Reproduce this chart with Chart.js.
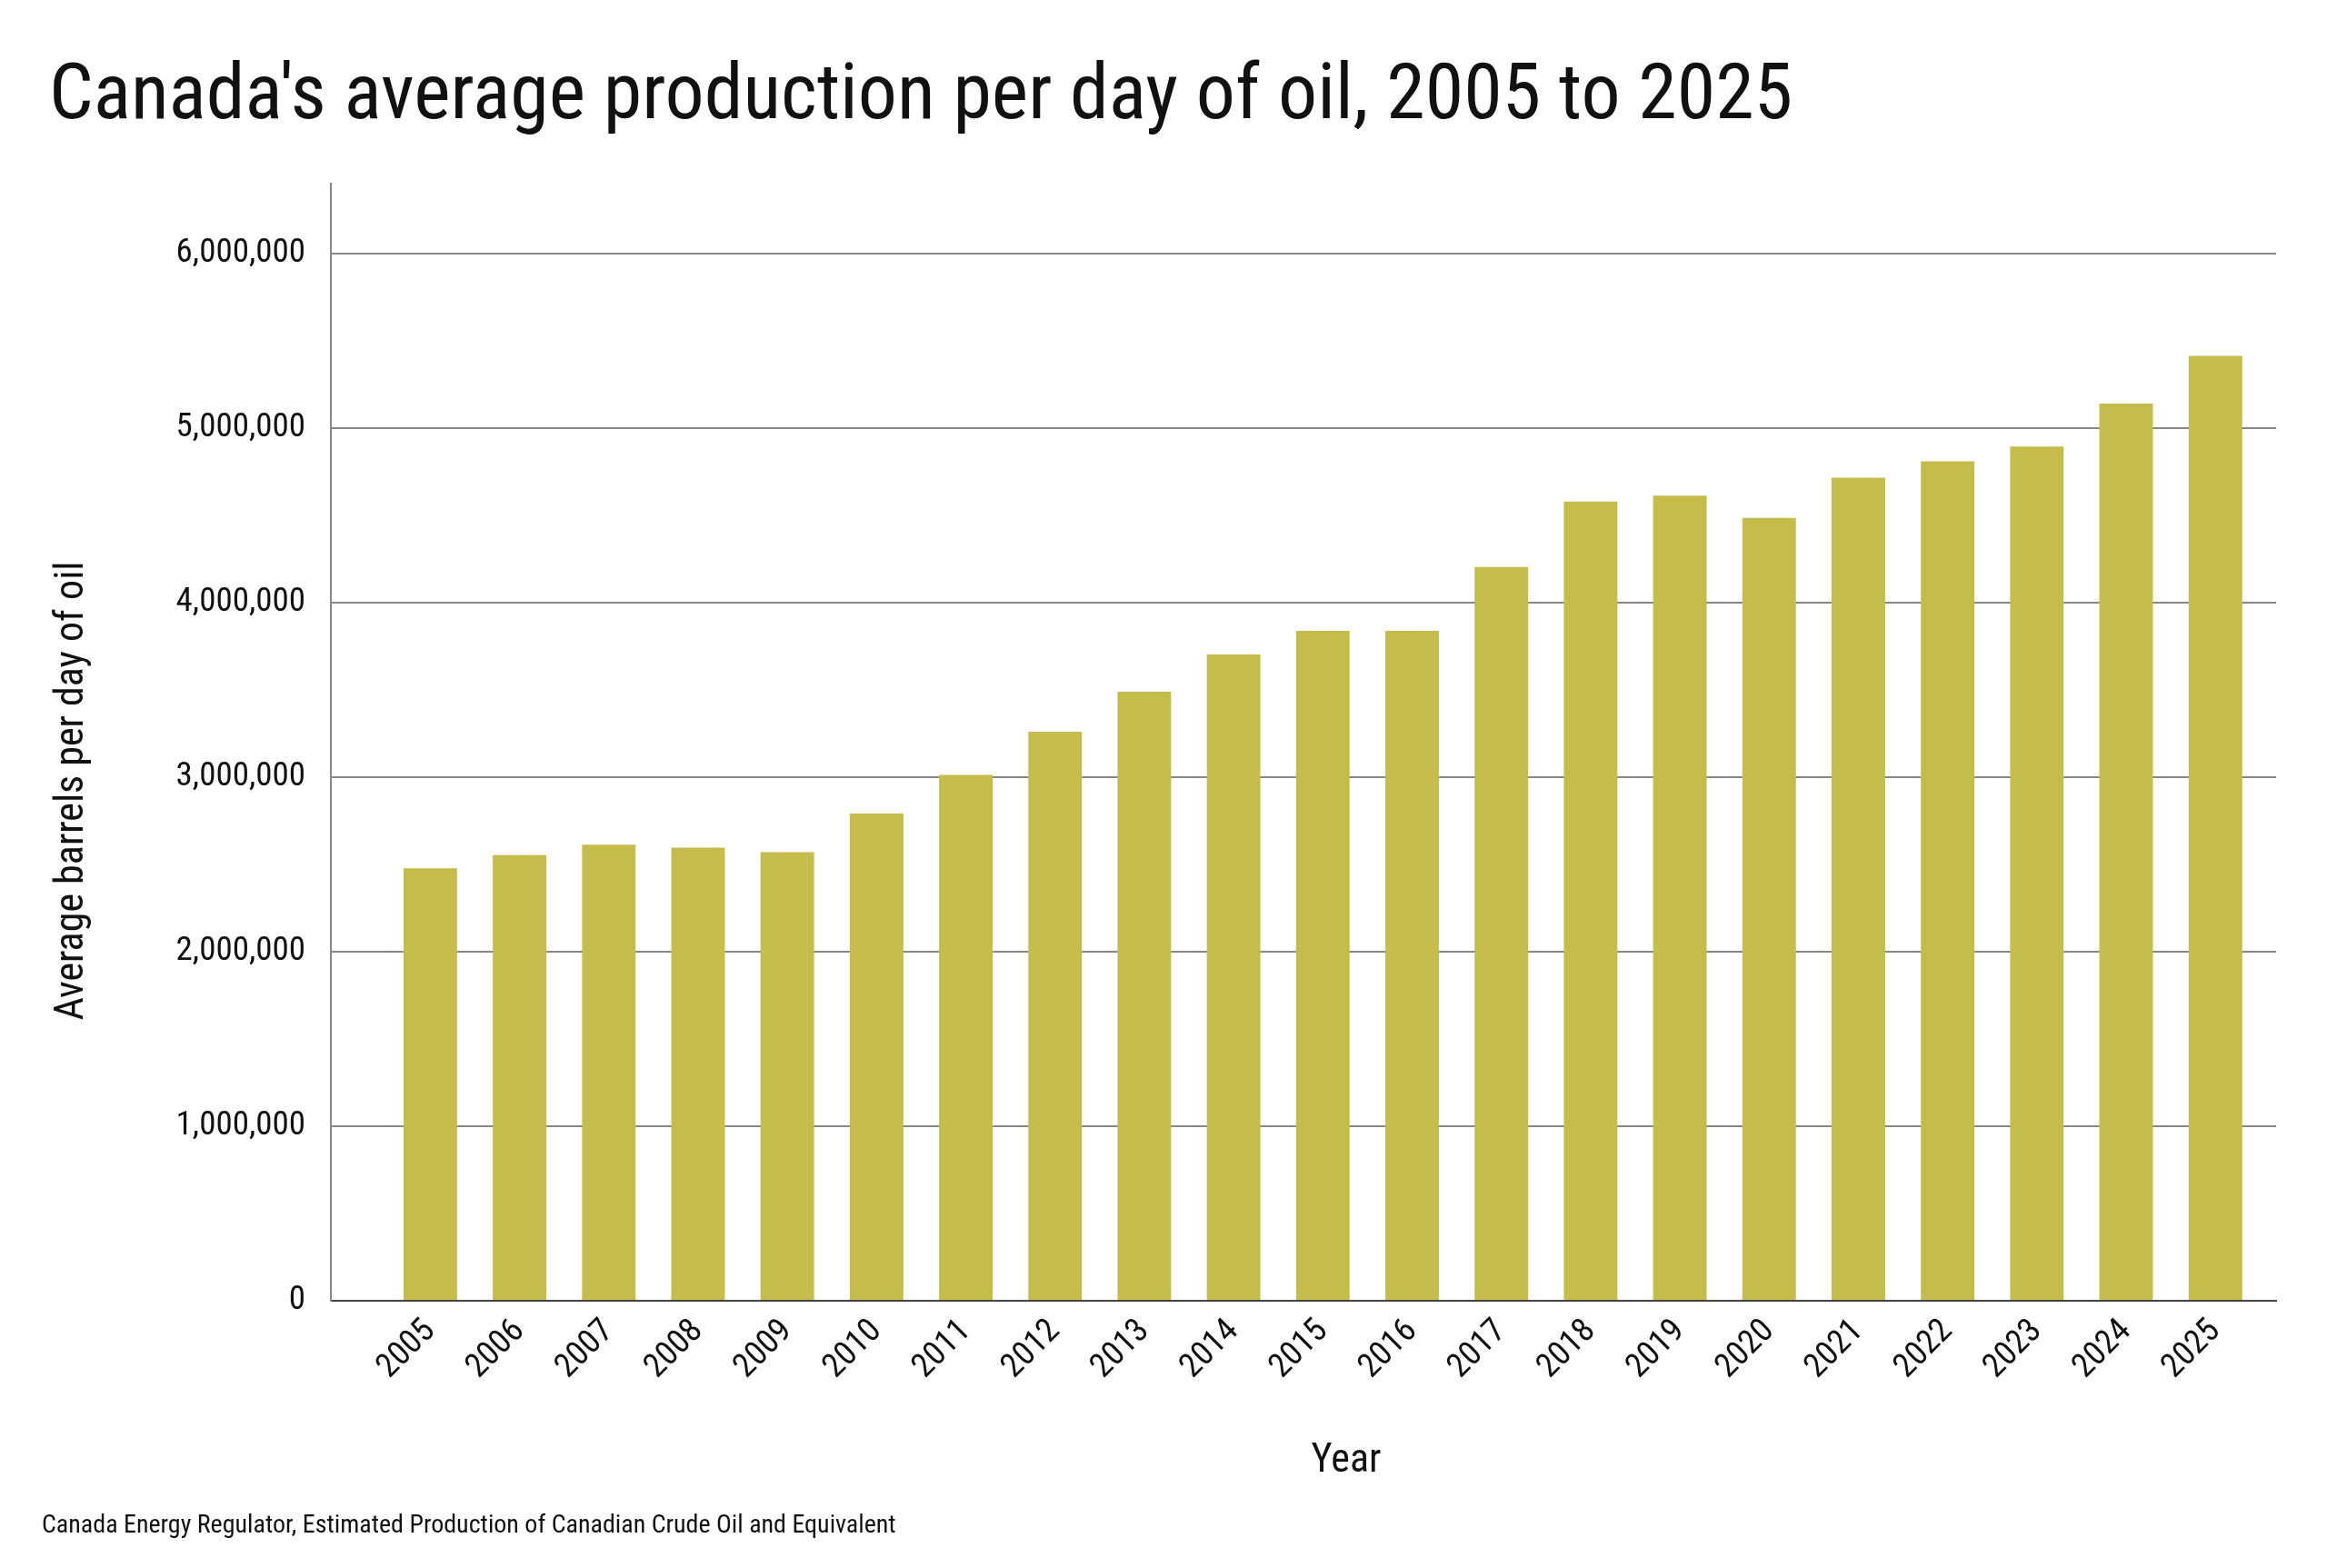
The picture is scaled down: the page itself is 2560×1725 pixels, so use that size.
<!DOCTYPE html>
<html><head><meta charset="utf-8">
<script src="https://cdn.jsdelivr.net/npm/chart.js@4"></script>
<style>body{margin:0;background:#fff}canvas{display:block}</style>
</head><body>
<canvas id="c" width="2560" height="1725"></canvas>
<script>
const years = [2005,2006,2007,2008,2009,2010,2011,2012,2013,2014,2015,2016,2017,2018,2019,2020,2021,2022,2023,2024,2025];
const barrels = [2477000,2553000,2613000,2596000,2570000,2791000,3013000,3260000,3489000,3702000,3838000,3838000,4204000,4579000,4613000,4485000,4715000,4809000,4894000,5140000,5413000];
const titleText = "Canada's average production per day of oil, 2005 to 2025";
const yTitle = 'Average barrels per day of oil';
const xTitle = 'Year';
const sourceText = 'Canada Energy Regulator, Estimated Production of Canadian Crude Oil and Equivalent';
const FONT = "'Liberation Sans Narrow', 'Roboto Condensed', 'Liberation Sans', sans-serif";

const textPlugin = {
  id: 'texts',
  afterDraw(chart) {
    const c = chart.ctx;
    c.save();
    c.fillStyle = '#111';
    c.textBaseline = 'middle';
    c.font = '86px ' + FONT;
    c.textAlign = 'left';
    c.fillText(titleText, 54, 108);
    c.font = '28px ' + FONT;
    c.fillText(sourceText, 46, 1679);
    c.font = '44px ' + FONT;
    c.textAlign = 'center';
    c.fillText(xTitle, 1481, 1608);
    c.translate(80, 870);
    c.rotate(-Math.PI / 2);
    c.fillText(yTitle, 0, 0);
    c.restore();
  }
};

new Chart(document.getElementById('c'), {
  type: 'bar',
  data: {
    datasets: [{
      data: years.map((y, i) => ({ x: y, y: barrels[i] })),
      backgroundColor: '#c4bd4c',
      barPercentage: 0.6,
      categoryPercentage: 1
    }]
  },
  options: {
    responsive: false,
    devicePixelRatio: 1,
    animation: false,
    layout: { padding: { top: 202, right: 56, left: 0, bottom: 0 } },
    plugins: { legend: { display: false }, tooltip: { enabled: false } },
    scales: {
      x: {
        type: 'linear',
        offset: false,
        min: 2003.886,
        max: 2025.68,
        afterBuildTicks: s => { s.ticks = years.map(v => ({ value: v })); },
        afterFit: s => { s.height = 294; },
        grid: { display: false },
        border: { color: '#444', width: 2 },
        ticks: {
          callback: v => String(v),
          maxRotation: 45, minRotation: 45,
          autoSkip: false,
          font: { family: FONT, size: 37 },
          color: '#111',
          padding: 4
        }
      },
      y: {
        min: 0,
        max: 6400000,
        afterBuildTicks: s => { s.ticks = [0,1,2,3,4,5,6].map(v => ({ value: v * 1000000 })); },
        afterFit: s => { s.width = 364; },
        grid: { color: '#888', lineWidth: 2, drawTicks: false },
        border: { color: '#888', width: 2 },
        ticks: {
          callback: v => v.toLocaleString('en-US'),
          font: { family: FONT, size: 37 },
          color: '#111',
          padding: 28
        }
      }
    }
  },
  plugins: [textPlugin]
});
</script>
</body></html>
